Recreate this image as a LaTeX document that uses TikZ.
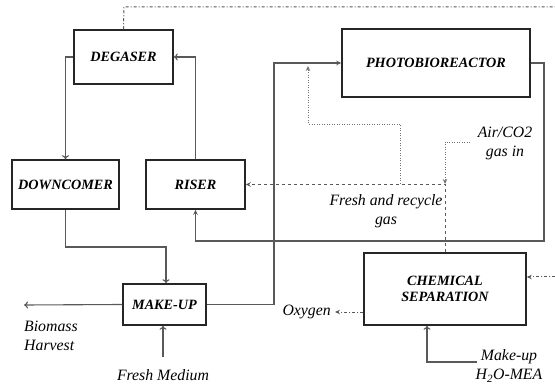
\documentclass[tikz,border=0pt]{standalone}
\usepackage{fontspec}
\setmainfont{Liberation Serif}
\usetikzlibrary{arrows.meta}
\begin{document}
\begin{tikzpicture}[x=1pt,y=-1pt,
  box/.style={draw=black!85,line width=1.5pt,fill=white,inner sep=0pt,font=\fontsize{14.2}{16}\selectfont\bfseries\itshape,align=center},
  lbl/.style={font=\fontsize{15.8}{19}\selectfont\itshape,align=center,inner sep=0pt},
  conn/.style={draw=black!65,line width=1.1pt},
  arr/.style={conn,-{Stealth[length=5pt,width=4.5pt]}},
  oarr/.style={conn,-{To[length=4pt,width=7pt]}},
  dasharr/.style={draw=black!65,line width=1pt,dash pattern=on 3pt off 3pt,-{Stealth[length=5pt,width=4.5pt]}},
  dotarr/.style={draw=black!55,line width=0.9pt,dash pattern=on 1pt off 1.5pt,-{Stealth[length=5pt,width=4.5pt]}},
  dotline/.style={draw=black!55,line width=0.9pt,dash pattern=on 1pt off 1.5pt},
  ddline/.style={draw=black!65,line width=1pt,dash pattern=on 3pt off 2pt on 1pt off 2pt},
  ddarr/.style={ddline,-{Stealth[length=5pt,width=4.5pt]}}
]
\useasboundingbox (0,0) rectangle (555,385);
\node[box,minimum width=99pt,minimum height=54pt] (deg) at (123.5,57) {DEGASER};
\node[box,minimum width=107pt,minimum height=49pt] (down) at (65.5,184.5) {DOWNCOMER};
\node[box,minimum width=99pt,minimum height=49pt] (riser) at (195.5,184.5) {RISER};
\node[box,minimum width=188pt,minimum height=68pt] (pbr) at (436,63) {PHOTOBIOREACTOR};
\node[box,minimum width=83pt,minimum height=41pt] (mk) at (164.5,304.5) {MAKE-UP};
\node[box,minimum width=162pt,minimum height=72pt] (chem) at (445,289) {CHEMICAL\\SEPARATION};

\coordinate (c1) at (274,63);
\coordinate (c2) at (544,241);
\coordinate (bio) at (24,305);
\coordinate (fm) at (163,357);
\coordinate (mkh) at (477,362);
\coordinate (air) at (470,142);
\coordinate (air2) at (445,142);
\coordinate (airtip) at (445,184);
\coordinate (r1) at (400,184);
\coordinate (r2) at (400,124);
\coordinate (r3) at (308,124);
\coordinate (r4) at (308,66);
\coordinate (ox) at (335,312);
\coordinate (rt) at (555,277);
\coordinate (t1) at (124,7);
\coordinate (t2) at (555,7);

% solid connectors
\draw[oarr] (deg.west) -| (down.north);
\draw[oarr] (riser.north) |- (deg.east);
\draw[oarr] (down.south) |- (166,247) -- ([xshift=1.5pt]mk.north);
\draw[arr] (mk.east) -| (c1) -- (pbr.west);
\draw[arr] (pbr.east) -| (c2) -| (riser.south);
\draw[oarr] (mk.west) -- (bio);
\draw[oarr] (fm) -- ([xshift=-1.5pt]mk.south);
\draw[oarr] (mkh) -| ([xshift=-18pt]chem.south);

% dashed / dotted
\draw[dasharr] (chem.north) |- (riser.east);
\draw[dotline] (air) -- (air2);
\draw[dotarr] (air2) -- (airtip);
\draw[dotarr] (r1) -- (r2) -- (r3) -- (r4);
\draw[ddarr] ([yshift=-23pt]chem.west) -- (ox);
\draw[ddarr] (rt) -- ([yshift=12pt]chem.east);
\draw[ddline] (deg.north) -- (t1) -- (t2);

% labels
\node[lbl,align=left,anchor=west] (biol) at (24,336) {Biomass\\Harvest};
\node[lbl] (fml) at (163,375) {Fresh Medium};
\node[lbl,anchor=east] (oxl) at (331,312) {Oxygen};
\node[lbl] (mkhl) at (509,366) {Make-up\\H\textsubscript{2}O-MEA};
\node[lbl] (airl) at (505,143) {Air/CO2\\gas in};
\node[lbl] (frl) at (386,211) {Fresh and recycle\\gas};
\end{tikzpicture}
\end{document}
